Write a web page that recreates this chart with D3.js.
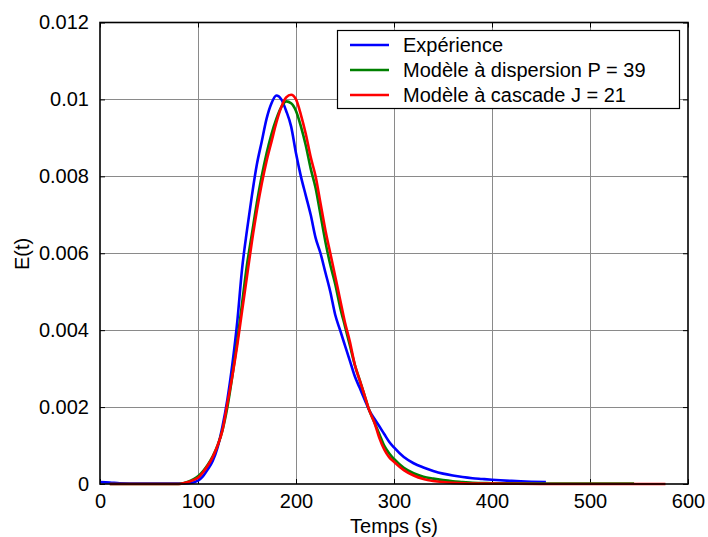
<!DOCTYPE html>
<html>
<head>
<meta charset="utf-8">
<script src="https://cdn.jsdelivr.net/npm/d3@7"></script>
<style>
  html, body { margin: 0; padding: 0; background: #fff; }
  svg { display: block; }
  text { font-family: "Liberation Sans", Arial, sans-serif; fill: #000; }
</style>
</head>
<body>
<svg id="chart" width="708" height="537"></svg>
<script>
// ---- data ----
const xTicks = [0, 100, 200, 300, 400, 500, 600];
const yTicks = [0, 0.002, 0.004, 0.006, 0.008, 0.01, 0.012];
const yTickLabels = ["0", "0.002", "0.004", "0.006", "0.008", "0.01", "0.012"];
const seriesNames = ["Expérience", "Modèle à dispersion P = 39", "Modèle à cascade J = 21"];
const seriesColors = ["#0000ff", "#008000", "#ff0000"];

const expT = [0, 10, 20, 40, 60, 80, 90, 100, 105, 110, 115, 120, 125, 130, 135, 140, 145, 150, 155, 160, 165, 170, 175, 180, 185, 190, 195, 200, 205, 210, 215, 220, 225, 230, 235, 240, 245, 250, 255, 260, 265, 270, 275, 280, 285, 290, 295, 300, 310, 320, 330, 340, 350, 360, 370, 380, 390, 400, 420, 440, 455];
const expE = [0.00005, 0.00004, 0.00002, 0.00001, 0.00001, 0.00001, 0.00002, 0.00009, 0.0002, 0.00038, 0.0006, 0.00095, 0.0015, 0.0022, 0.0031, 0.0042, 0.0056, 0.0066, 0.0075, 0.0083, 0.0089, 0.0095, 0.0099, 0.0101, 0.0100, 0.0097, 0.0093, 0.0086, 0.0080, 0.0075, 0.0070, 0.0064, 0.0060, 0.0055, 0.0050, 0.0044, 0.0040, 0.0036, 0.0032, 0.0028, 0.0025, 0.0022, 0.0019, 0.0017, 0.0015, 0.0013, 0.0011, 0.00095, 0.0007, 0.00054, 0.00043, 0.00034, 0.00027, 0.00022, 0.00018, 0.00015, 0.00013, 0.00011, 0.00008, 0.00006, 0.00005];

const dispT = [10, 40, 80, 85, 90, 95, 100, 105, 110, 115, 120, 125, 130, 135, 140, 145, 150, 155, 160, 165, 170, 175, 180, 185, 190, 195, 200, 205, 210, 215, 220, 225, 230, 235, 240, 245, 250, 255, 260, 265, 270, 275, 280, 285, 290, 295, 300, 310, 320, 330, 340, 350, 360, 370, 380, 400, 450, 500, 545];
const dispE = [0, 0, 0, 0.00002, 0.00006, 0.00012, 0.0002, 0.00033, 0.0005, 0.00072, 0.001, 0.0014, 0.002, 0.0028, 0.0037, 0.0047, 0.0057, 0.0065, 0.0073, 0.008, 0.0086, 0.0091, 0.0095, 0.0098, 0.00995, 0.0099, 0.0097, 0.0093, 0.0088, 0.0082, 0.0077, 0.0070, 0.0063, 0.0057, 0.0052, 0.0046, 0.0041, 0.0036, 0.0031, 0.0027, 0.0023, 0.0019, 0.0016, 0.0013, 0.001, 0.0008, 0.00065, 0.00042, 0.00028, 0.00019, 0.00014, 0.0001, 0.00007, 0.00005, 0.00003, 0.00002, 0.00001, 0.00001, 0.00001];

const cascT = [10, 40, 80, 85, 90, 95, 100, 105, 110, 115, 120, 125, 130, 135, 140, 145, 150, 155, 160, 165, 170, 175, 180, 185, 190, 195, 200, 205, 210, 215, 220, 225, 230, 235, 240, 245, 250, 255, 260, 265, 270, 275, 280, 285, 290, 295, 300, 310, 320, 330, 340, 350, 360, 380, 400, 450, 500, 577];
const cascE = [0, 0, 0, 0.00002, 0.00005, 0.0001, 0.00016, 0.0003, 0.00048, 0.0007, 0.001, 0.0014, 0.0021, 0.0028, 0.0036, 0.0045, 0.0054, 0.0063, 0.0071, 0.0078, 0.0084, 0.0089, 0.0094, 0.0098, 0.01005, 0.01012, 0.0100, 0.0096, 0.0091, 0.0085, 0.0080, 0.0073, 0.0066, 0.0060, 0.0054, 0.0048, 0.0042, 0.0037, 0.0031, 0.0027, 0.0023, 0.0019, 0.0016, 0.0012, 0.0009, 0.0007, 0.00058, 0.00036, 0.00022, 0.00013, 0.00008, 0.00005, 0.00003, 0.00001, 0.00001, 0, 0, 0];

// ---- layout ----
const svg = d3.select("#chart");
const L = 100, R = 688, T = 22.5, B = 484;
const x = d3.scaleLinear().domain([0, 600]).range([L, R]);
const y = d3.scaleLinear().domain([0, 0.012]).range([B, T]);

// grid
const grid = svg.append("g").attr("stroke", "#8a8a8a").attr("stroke-width", 1);
grid.selectAll("line.gx").data(xTicks.slice(1, -1)).join("line")
  .attr("x1", d => Math.round(x(d)) + 0.5).attr("x2", d => Math.round(x(d)) + 0.5)
  .attr("y1", T).attr("y2", B);
grid.selectAll("line.gy").data(yTicks.slice(1, -1)).join("line")
  .attr("x1", L).attr("x2", R)
  .attr("y1", d => Math.round(y(d)) + 0.5).attr("y2", d => Math.round(y(d)) + 0.5);

// axes (inside ticks on all four sides)
const fs = 20;
const axB = svg.append("g").attr("transform", `translate(0,${B})`)
  .call(d3.axisBottom(x).tickValues(xTicks).tickSizeInner(-5).tickSizeOuter(0).tickPadding(10).tickFormat(d3.format("d")));
const axT = svg.append("g").attr("transform", `translate(0,${T})`)
  .call(d3.axisTop(x).tickValues(xTicks).tickSizeInner(-5).tickSizeOuter(0).tickFormat(""));
const axL = svg.append("g").attr("transform", `translate(${L},0)`)
  .call(d3.axisLeft(y).tickValues(yTicks).tickSizeInner(-5).tickSizeOuter(0).tickPadding(11)
    .tickFormat((d, i) => yTickLabels[i]));
const axR = svg.append("g").attr("transform", `translate(${R},0)`)
  .call(d3.axisRight(y).tickValues(yTicks).tickSizeInner(-5).tickSizeOuter(0).tickFormat(""));
[axB, axT, axL, axR].forEach(a => {
  a.select(".domain").remove();
  a.selectAll(".tick line").attr("stroke", "#000").attr("stroke-width", 1);
  a.selectAll("text").attr("font-size", fs).attr("font-family", "Liberation Sans, Arial, sans-serif");
});

// series
const series = [
  { t: expT, e: expE },
  { t: dispT, e: dispE },
  { t: cascT, e: cascE }
];
const line = d3.line().x(d => x(d[0])).y(d => y(d[1])).curve(d3.curveMonotoneX);
series.forEach((s, i) => {
  const pts = s.t.map((t, k) => [t, s.e[k]]);
  svg.append("path").datum(pts)
    .attr("fill", "none").attr("stroke", seriesColors[i]).attr("stroke-width", 2.6)
    .attr("stroke-linejoin", "round").attr("d", line);
});

// frame
svg.append("rect").attr("x", L).attr("y", T).attr("width", R - L).attr("height", B - T)
  .attr("fill", "none").attr("stroke", "#000").attr("stroke-width", 1.6);

// axis titles
svg.append("text").attr("x", (L + R) / 2).attr("y", 532.5).attr("text-anchor", "middle")
  .attr("font-size", fs).text("Temps (s)");
svg.append("text").attr("transform", "translate(29,254) rotate(-90)").attr("text-anchor", "middle")
  .attr("font-size", fs).text("E(t)");

// legend
const lg = svg.append("g");
lg.append("rect").attr("x", 337.5).attr("y", 30.5).attr("width", 342).attr("height", 78)
  .attr("fill", "#fff").attr("stroke", "#000").attr("stroke-width", 1.2);
seriesNames.forEach((n, i) => {
  const yy = 45 + i * 25;
  lg.append("line").attr("x1", 350).attr("x2", 389).attr("y1", yy).attr("y2", yy)
    .attr("stroke", seriesColors[i]).attr("stroke-width", 2.6);
  lg.append("text").attr("x", 403).attr("y", yy + 7).attr("font-size", fs).text(n);
});
</script>
</body>
</html>
